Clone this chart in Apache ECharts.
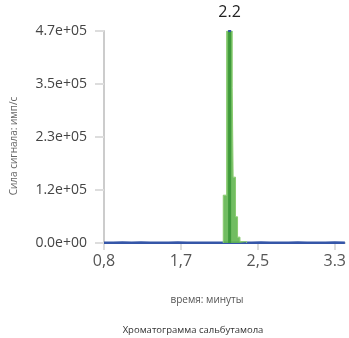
<!DOCTYPE html>
<html><head><meta charset="utf-8">
<script src="https://cdn.jsdelivr.net/npm/echarts@6/dist/echarts.min.js"></script>
<style>html,body{margin:0;padding:0;background:#fff}#c{width:349px;height:338px}</style>
</head><body><div id="c"></div>
<script>
// Tick labels
const xTickValues = [0.8, 1.6333, 2.4667, 3.3];
const xTickLabels = ['0,8', '1,7', '2,5', '3.3'];
const yTickLabels = ['0.0e+00', '1.2e+05', '2.3e+05', '3.5e+05', '4.7e+05'];
// Baseline trace (time, counts)
const traceTimes  = [0.8, 0.9, 1.0, 1.1, 1.2, 1.3, 1.4, 1.5, 1.6, 1.7, 1.8, 1.9, 2.0, 2.1, 2.2, 2.3, 2.4, 2.5, 2.6, 2.7, 2.8, 2.9, 3.0, 3.1, 3.2, 3.3, 3.41];
const traceValues = [800, 300, 900, 500, 1000, 400, 700, 300, 900, 500, 600, 300, 800, 500, 600, 700, 400, 900, 300, 700, 500, 1000, 400, 800, 300, 900, 600];
// Highlighted peak (stepped profile)
const peakTimes  = [2.092, 2.092, 2.129, 2.129, 2.189, 2.189, 2.199, 2.199, 2.225, 2.225, 2.247, 2.247, 2.273, 2.273, 2.345, 2.345];
const peakValues = [0, 106000, 106000, 470000, 470000, 344000, 344000, 146000, 146000, 58000, 58000, 13000, 13000, 3000, 3000, 0];
const apexTimes  = [2.161, 2.161];
const apexValues = [0, 470000];
const peakLabel = '2.2';
const xTitle = 'время: минуты';
const yTitle = 'Сила сигнала: имп/с';
const chartTitle = 'Хроматограмма сальбутамола';

const font = "'Open Sans', 'Noto Sans', sans-serif";
const chart = echarts.init(document.getElementById('c'));
chart.setOption({
  animation: false,
  textStyle: { fontFamily: font },
  grid: { left: 104, right: 4, top: 31, bottom: 95 },
  title: [
    { text: xTitle, left: 202, top: 290, textAlign: 'center',
      textStyle: { fontSize: 10, fontWeight: 'normal', color: '#555', fontFamily: font } },
    { text: chartTitle, left: 188, top: 320, textAlign: 'center',
      textStyle: { fontSize: 9.5, fontWeight: 'normal', color: '#333', fontFamily: font } }
  ],
  graphic: [{
    type: 'text', x: 14, y: 146, rotation: Math.PI / 2,
    style: { text: yTitle, fontSize: 10, fill: '#666', fontFamily: font, textAlign: 'center', textVerticalAlign: 'middle' }
  }],
  xAxis: {
    type: 'value', min: 0.8, max: 3.41,
    axisLine: { show: true, lineStyle: { color: '#ccc', width: 2 } },
    axisTick: { show: true, length: 7, lineStyle: { color: '#ddd', width: 2 }, customValues: xTickValues },
    axisLabel: { show: true, customValues: xTickValues, fontSize: 16, color: '#555', margin: 10,
      formatter: function (v) {
        let best = 0;
        for (let i = 0; i < xTickValues.length; i++) {
          if (Math.abs(xTickValues[i] - v) < Math.abs(xTickValues[best] - v)) best = i;
        }
        return xTickLabels[best];
      } },
    splitLine: { show: false }
  },
  yAxis: {
    type: 'value', min: 0, max: 470000, interval: 117500,
    axisLine: { show: true, lineStyle: { color: '#ccc', width: 2 } },
    axisTick: { show: true, length: 9, lineStyle: { color: '#ddd', width: 2 } },
    axisLabel: { fontSize: 14, color: '#444', margin: 17,
      formatter: (v) => yTickLabels[Math.round(v / 117500)] },
    splitLine: { show: false }
  },
  series: [
    {
      type: 'line', data: traceTimes.map((t, i) => [t, traceValues[i]]),
      symbol: 'none', lineStyle: { color: '#3556a8', width: 2.5 }, z: 2
    },
    {
      type: 'line', data: peakTimes.map((t, i) => [t, peakValues[i]]),
      symbol: 'none',
      lineStyle: { color: '#8ccc72', width: 1 },
      areaStyle: { color: '#62b650', opacity: 0.9 }, z: 3
    },
    {
      type: 'line', data: apexTimes.map((t, i) => [t, apexValues[i]]),
      symbol: 'none',
      lineStyle: { color: '#3f9a3b', width: 3 }, z: 4,
      markPoint: {
        symbol: 'rect', symbolSize: [3, 2], itemStyle: { color: '#3556a8' },
        data: [{ coord: [apexTimes[1], apexValues[1]] }],
        label: { show: true, position: 'top', distance: 10, formatter: peakLabel,
          fontSize: 16, color: '#222', fontFamily: font }
      }
    }
  ]
});
</script></body></html>
